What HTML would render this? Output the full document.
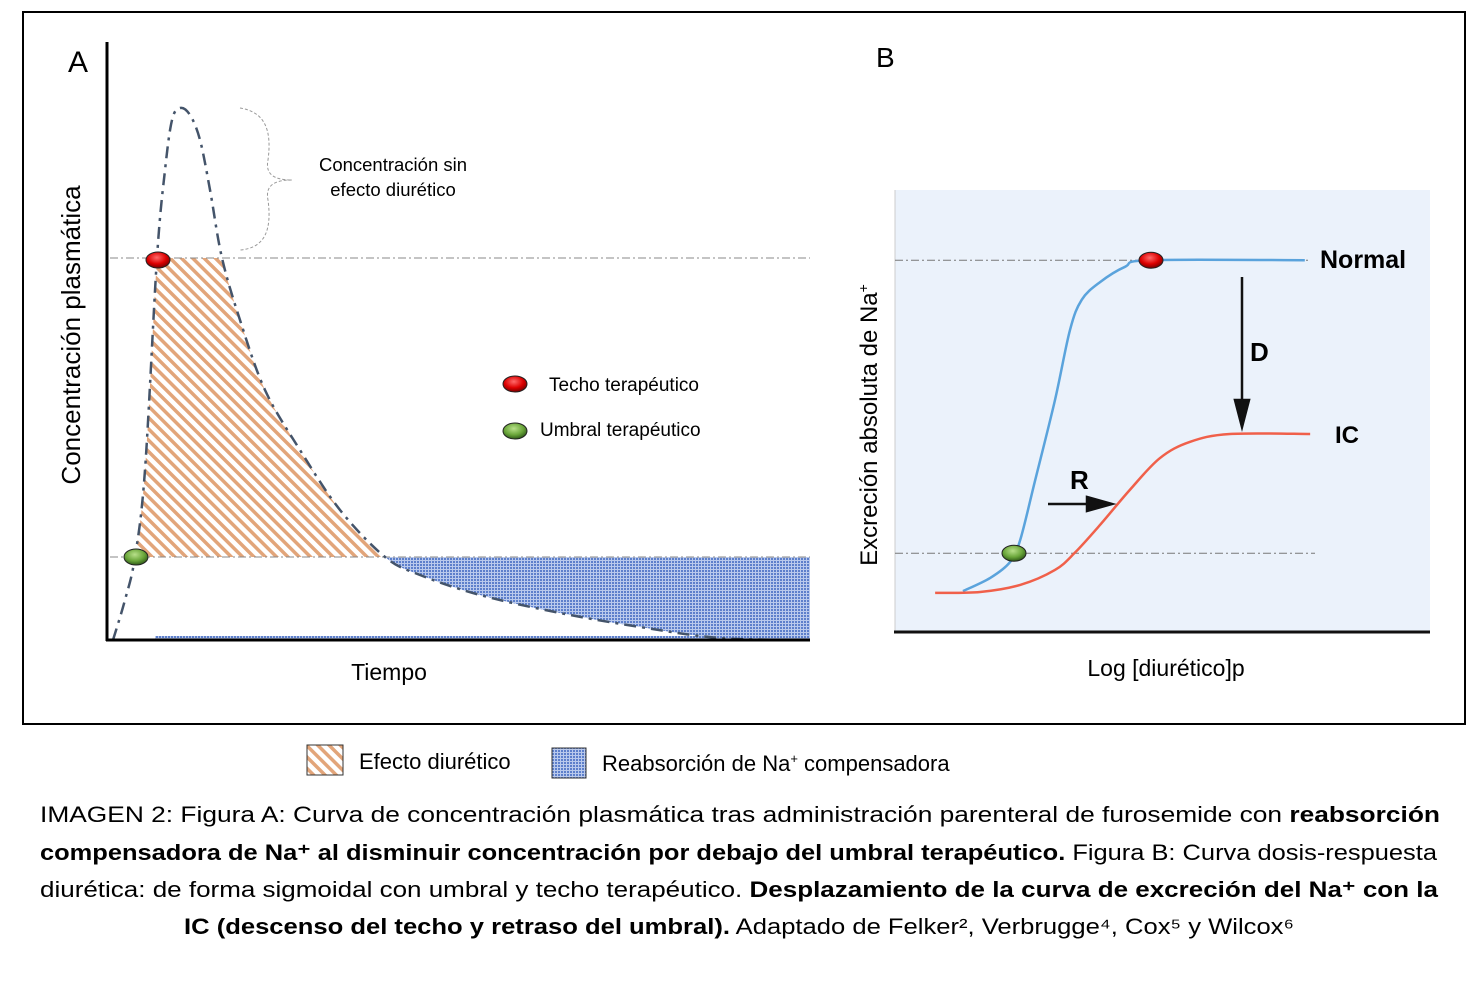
<!DOCTYPE html>
<html><head><meta charset="utf-8"><style>
body{margin:0;background:#fff}
svg{display:block;font-family:"Liberation Sans",sans-serif}
</style></head><body>
<svg width="1477" height="984" viewBox="0 0 1477 984">
<defs>
<pattern id="hatch" width="8" height="8" patternUnits="userSpaceOnUse" patternTransform="rotate(-45)">
<rect width="8" height="8" fill="#fff"/><rect width="3.5" height="8" fill="#e2a57a"/></pattern>
<pattern id="dots" width="3" height="3" patternUnits="userSpaceOnUse">
<rect width="3" height="3" fill="#b9c9ec"/><rect width="2" height="2" fill="#5d7fcb"/></pattern>
<radialGradient id="gr" cx="45%" cy="35%" r="65%"><stop offset="0" stop-color="#ff6a6a"/><stop offset="0.6" stop-color="#d00"/><stop offset="1" stop-color="#700"/></radialGradient>
<radialGradient id="gg" cx="45%" cy="35%" r="65%"><stop offset="0" stop-color="#b8e08a"/><stop offset="0.6" stop-color="#6aa63a"/><stop offset="1" stop-color="#2f5a18"/></radialGradient>
<clipPath id="clipH"><rect x="100" y="258" width="720" height="299"/></clipPath>
<clipPath id="clipB"><rect x="385" y="557" width="425" height="83"/></clipPath>
</defs>
<rect x="23" y="12" width="1442" height="712" fill="#fff" stroke="#000" stroke-width="2"/>

<g id="panelA"></g>
<g id="panelB"></g>

<text x="68" y="72" font-size="30">A</text>
<text x="876" y="67" font-size="28">B</text>
<text transform="translate(80,335) rotate(-90)" text-anchor="middle" font-size="26">Concentración plasmática</text>
<text x="389" y="680" text-anchor="middle" font-size="23">Tiempo</text>
<text transform="translate(877,425) rotate(-90)" text-anchor="middle" font-size="24">Excreción absoluta de Na<tspan dy="-9" font-size="14">+</tspan></text>
<text x="1166" y="676" text-anchor="middle" font-size="23">Log [diurético]p</text>

<path d="M240,108 C265,112 272,130 268,160 C265,175 275,180 292,180 C275,180 265,185 268,200 C272,230 265,248 240,250" fill="none" stroke="#999" stroke-width="1" stroke-dasharray="3,2"/>
<text x="393" y="171" text-anchor="middle" font-size="18.5">Concentración sin</text>
<text x="393" y="196" text-anchor="middle" font-size="18.5">efecto diurético</text>

<ellipse cx="515" cy="384" rx="12" ry="8" fill="url(#gr)" stroke="#222"/>
<text x="549" y="391" font-size="19">Techo terapéutico</text>
<ellipse cx="515" cy="431" rx="12" ry="8" fill="url(#gg)" stroke="#222"/>
<text x="540" y="436" font-size="19">Umbral terapéutico</text>

<text x="1320" y="268" font-size="25" font-weight="bold">Normal</text>
<text x="1335" y="443" font-size="24" font-weight="bold">IC</text>
<text x="1250" y="361" font-size="26" font-weight="bold">D</text>
<text x="1070" y="489" font-size="26" font-weight="bold">R</text>

<rect x="307" y="745" width="36" height="30" fill="url(#hatch)" stroke="#333"/>
<text x="359" y="769" font-size="22">Efecto diurético</text>
<rect x="552" y="748" width="34" height="30" fill="url(#dots)" stroke="#333"/>
<text x="602" y="771" font-size="22">Reabsorción de Na<tspan dy="-8" font-size="13">+</tspan><tspan dy="8"> compensadora</tspan></text>

<g font-size="22">
<text x="40" y="822" textLength="1400" lengthAdjust="spacingAndGlyphs">IMAGEN 2: Figura A: Curva de concentración plasmática tras administración parenteral de furosemide con <tspan font-weight="bold">reabsorción</tspan></text>
<text x="40" y="860" textLength="1397" lengthAdjust="spacingAndGlyphs"><tspan font-weight="bold">compensadora de Na⁺ al disminuir concentración por debajo del umbral terapéutico.</tspan> Figura B: Curva dosis-respuesta</text>
<text x="40" y="897" textLength="1398" lengthAdjust="spacingAndGlyphs">diurética: de forma sigmoidal con umbral y techo terapéutico. <tspan font-weight="bold">Desplazamiento de la curva de excreción del Na⁺ con la</tspan></text>
<text x="739" y="934" text-anchor="middle" textLength="1110" lengthAdjust="spacingAndGlyphs"><tspan font-weight="bold">IC (descenso del techo y retraso del umbral).</tspan> Adaptado de Felker², Verbrugge⁴, Cox⁵ y Wilcox⁶</text>
</g>
</svg>
<script>
// Panel A data (time units, concentration units)
const timeA=[0.43,2.14,3.57,5,6.71,7.86,8.86,10,11.43,12.86,14.29,16,18.57,22.14,27.14,32.86,39.29,44.29,52.86,64.29,75.71,87.14,100];
const concA=[0,8,16.6,34,76.4,94,104,106.4,105,100,90,76.4,64,50,38,26,16.6,13,9,5.4,2.6,0.4,0];
const thresholdA=16.6, ceilingA=76.4;
// Panel B data (log dose units, response units)
const doseNormal=[12.7,17.8,21.5,23.4,26.2,29.9,32.7,34.9,38.3,43,47.7,76.6];
const respNormal=[9.3,12.3,15.9,20.9,34.5,52.7,68.6,75.5,79.5,83,84.5,84.5];
const doseIC=[7.5,15.9,23.4,29.9,33.6,38.3,43.9,49.5,55.1,62.6,77.6];
const respIC=[8.9,9.1,10.7,14.1,18,24.3,32.3,39.5,43.2,45,45];
const thresholdB=17.9, ceilingB=84.5;

const NS='http://www.w3.org/2000/svg';
function mk(tag,attrs,parent){const e=document.createElementNS(NS,tag);for(const k in attrs)e.setAttribute(k,attrs[k]);parent.appendChild(e);return e;}
function smooth(pts){let d='M'+pts[0][0]+','+pts[0][1];for(let i=0;i<pts.length-1;i++){const p0=pts[Math.max(0,i-1)],p1=pts[i],p2=pts[i+1],p3=pts[Math.min(pts.length-1,i+2)];
d+=' C'+(p1[0]+(p2[0]-p0[0])/6)+','+(p1[1]+(p2[1]-p0[1])/6)+' '+(p2[0]-(p3[0]-p1[0])/6)+','+(p2[1]-(p3[1]-p1[1])/6)+' '+p2[0]+','+p2[1];}return d;}

const xA=t=>110+t*7, yA=c=>640-c*5;
const gA=document.getElementById('panelA');
const ptsA=timeA.map((t,i)=>[xA(t),yA(concA[i])]);
const curveA=smooth(ptsA);
const hatch=mk('path',{d:curveA+' L'+xA(100)+','+yA(0)+' L'+xA(0)+','+yA(0)+' Z',fill:'url(#hatch)','clip-path':'url(#clipH)'},gA);


const blue=mk('path',{d:curveA+' L'+xA(100)+','+yA(thresholdA)+' L'+xA(0)+','+yA(thresholdA)+' Z',fill:'url(#dots)','clip-path':'url(#clipB)','fill-rule':'evenodd'},gA);


const strip=mk('rect',{x:155,y:636,width:655,height:3,fill:'url(#dots)'},gA);


[ceilingA,thresholdA].forEach(v=>{const l=mk('line',{x1:110,x2:810,y1:yA(v),y2:yA(v),stroke:'#888','stroke-width':1,'stroke-dasharray':'8,3,2,3'},gA);

});
const cA=mk('path',{d:curveA,fill:'none',stroke:'#44546a','stroke-width':2.5,'stroke-dasharray':'12,6,3,6'},gA);


const ax1=mk('line',{x1:107,y1:42,x2:107,y2:641,stroke:'#000','stroke-width':3},gA);


const ax2=mk('line',{x1:106,y1:640,x2:810,y2:640,stroke:'#000','stroke-width':3},gA);


const mr=mk('ellipse',{cx:158,cy:yA(ceilingA)+2,rx:12,ry:8,fill:'url(#gr)',stroke:'#222'},gA);


const mg=mk('ellipse',{cx:136,cy:yA(thresholdA),rx:12,ry:8,fill:'url(#gg)',stroke:'#222'},gA);



const xB=d=>895+d*5.35, yB=r=>632-r*4.4;
const gB=document.getElementById('panelB');
const bg=mk('rect',{x:895,y:190,width:535,height:442,fill:'#ebf2fb'},gB);


const lax=mk('line',{x1:895,y1:190,x2:895,y2:632,stroke:'#ccc','stroke-width':1},gB);


const bax=mk('line',{x1:894,y1:632,x2:1430,y2:632,stroke:'#111','stroke-width':3},gB);


[[ceilingB,1310],[thresholdB,1315]].forEach(a=>{const l=mk('line',{x1:895,x2:a[1],y1:yB(a[0]),y2:yB(a[0]),stroke:'#777','stroke-width':1,'stroke-dasharray':'8,3,2,3'},gB);

});
const cn=mk('path',{d:smooth(doseNormal.map((d,i)=>[xB(d),yB(respNormal[i])])),fill:'none',stroke:'#5aa3dc','stroke-width':2.5},gB);


const ci=mk('path',{d:smooth(doseIC.map((d,i)=>[xB(d),yB(respIC[i])])),fill:'none',stroke:'#f0604a','stroke-width':2.5},gB);


const br=mk('ellipse',{cx:1151,cy:yB(ceilingB),rx:12,ry:8,fill:'url(#gr)',stroke:'#222'},gB);


const bgm=mk('ellipse',{cx:1014,cy:yB(thresholdB),rx:12,ry:8,fill:'url(#gg)',stroke:'#222'},gB);


const ad=mk('path',{d:'M1242,277 L1242,405 M1235,400 L1242,427 L1249,400 Z',stroke:'#111','stroke-width':2.5,fill:'#111'},gB);


const ar=mk('path',{d:'M1048,504 L1090,504 M1087,497 L1112,504 L1087,511 Z',stroke:'#111','stroke-width':2.5,fill:'#111'},gB);


</script>
</body></html>
